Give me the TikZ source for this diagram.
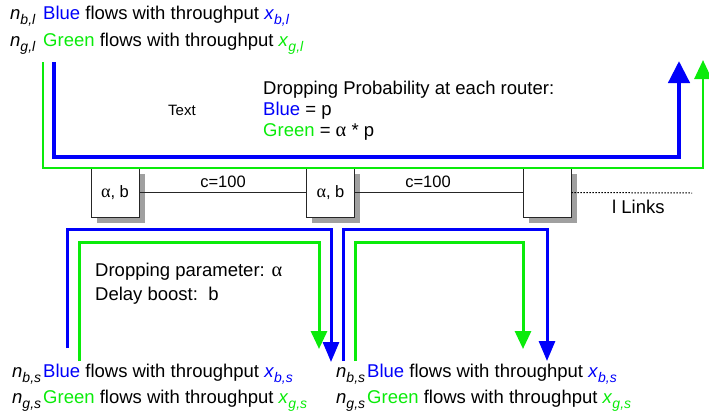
\documentclass[tikz,border=0pt]{standalone}
\usepackage{fontspec}
\setmainfont{Liberation Sans}
\newfontfamily\alphafont{Liberation Serif}
\usetikzlibrary{arrows.meta,shadows}
\definecolor{fblue}{RGB}{0,0,250}
\definecolor{fgreen}{RGB}{10,235,10}
\definecolor{shgray}{RGB}{160,160,160}
\newcommand\subsc[1]{\raisebox{-5pt}{\fontsize{14}{14}\selectfont\itshape #1}}
\newcommand\alp{{\alphafont\addfontfeature{Scale=1.1}α}}
\begin{document}
\begin{tikzpicture}[x=1pt,y=-1pt,
  txt/.style={anchor=base west, inner sep=0pt, font=\fontsize{18.5}{20}\selectfont},
  smalltxt/.style={anchor=base, inner sep=0pt, font=\fontsize{16.5}{18}\selectfont},
  router/.style={draw=black!85, line width=0.8pt, fill=white, minimum width=48pt, minimum height=49pt,
    inner sep=0pt, font=\fontsize{16.5}{18}\selectfont,
    drop shadow={shadow xshift=5.5pt, shadow yshift=-5.5pt, opacity=1, fill=shgray}},
  bigblue/.style={draw=fblue, line width=4.5pt, -{Triangle[length=22pt,width=21pt]}},
  biggreen/.style={draw=fgreen, line width=2.8pt, -{Triangle[length=19pt,width=17pt]}},
  lowblue/.style={draw=fblue, line width=3pt, -{Triangle[length=20pt,width=16pt]}},
  lowgreen/.style={draw=fgreen, line width=3pt, -{Triangle[length=18pt,width=16pt]}},
  link/.style={draw=black!85, line width=0.8pt}
]
\useasboundingbox (0,0) rectangle (709,416);

% routers
\node[router] (r1) at (115,192.5) {\alp, b};
\node[router] (r2) at (330.5,192.5) {\alp, b};
\node[router] (r3) at (547,192.5) {};
\coordinate (lend) at (692,193);

\draw[link] (r1) -- (r2);
\draw[link] (r2) -- (r3);
\draw[black, line width=1pt, dash pattern=on 1.5pt off 1.5pt] (r3.east) -- (lend);

\node[smalltxt] (c1) at (223,187) {c=100};
\node[smalltxt] (c2) at (428,187) {c=100};
\node[txt] (links) at (612,213) {l Links};

% top flows
\coordinate (gb0) at (43,62);  \coordinate (gb1) at (43,168);
\coordinate (gb2) at (703,168); \coordinate (gb3) at (703,60);
\coordinate (bb0) at (54,62);  \coordinate (bb1) at (54,157);
\coordinate (bb2) at (679,157); \coordinate (bb3) at (679,61);
\draw[biggreen] (gb0) -- (gb1) -- (gb2) -- (gb3);
\draw[bigblue] (bb0) -- (bb1) -- (bb2) -- (bb3);

% lower flows, left
\coordinate (lb0) at (67,348); \coordinate (lb1) at (67,229);
\coordinate (lb2) at (331,229); \coordinate (lb3) at (331,362);
\coordinate (lg0) at (79,361); \coordinate (lg1) at (79,242);
\coordinate (lg2) at (319,242); \coordinate (lg3) at (319,349);
\draw[lowblue] (lb0) -- (lb1) -- (lb2) -- (lb3);
\draw[lowgreen] (lg0) -- (lg1) -- (lg2) -- (lg3);

% lower flows, right
\coordinate (rb0) at (343,361); \coordinate (rb1) at (343,229);
\coordinate (rb2) at (547,229); \coordinate (rb3) at (547,361);
\coordinate (rg0) at (355,361); \coordinate (rg1) at (355,242);
\coordinate (rg2) at (523,242); \coordinate (rg3) at (523,349);
\draw[lowblue] (rb0) -- (rb1) -- (rb2) -- (rb3);
\draw[lowgreen] (rg0) -- (rg1) -- (rg2) -- (rg3);

% top texts
\node[txt] (n1) at (10,19) {\textit{n}\subsc{b,l}};
\node[txt] (t1) at (43,19) {\textcolor{fblue}{Blue} flows with throughput \textcolor{fblue}{\textit{x}\subsc{b,l}}};
\node[txt] (n2) at (10,46) {\textit{n}\subsc{g,l}};
\node[txt] (t2) at (43,46) {\textcolor{fgreen}{Green} flows with throughput \textcolor{fgreen}{\textit{x}\subsc{g,l}}};

% middle texts
\node[txt, font=\fontsize{15}{16}\selectfont] (tx) at (168,115) {Text};
\node[txt] (dp1) at (263,94) {Dropping Probability at each router:};
\node[txt] (dp2) at (263,115) {\textcolor{fblue}{Blue} = p};
\node[txt] (dp3) at (263,136) {\textcolor{fgreen}{Green} = \alp{} * p};

\node[txt] (par1) at (95,276) {Dropping parameter: \alp};
\node[txt] (par2) at (95,300) {Delay boost:\ \ b};

% lower texts
\node[txt] (n3) at (12,377) {\textit{n}\subsc{b,s}};
\node[txt] (t3) at (43,377) {\textcolor{fblue}{Blue} flows with throughput \textcolor{fblue}{\textit{x}\subsc{b,s}}};
\node[txt] (n4) at (12,403) {\textit{n}\subsc{g,s}};
\node[txt] (t4) at (43,403) {\textcolor{fgreen}{Green} flows with throughput \textcolor{fgreen}{\textit{x}\subsc{g,s}}};

\node[txt] (n5) at (336,377) {\textit{n}\subsc{b,s}};
\node[txt] (t5) at (367,377) {\textcolor{fblue}{Blue} flows with throughput \textcolor{fblue}{\textit{x}\subsc{b,s}}};
\node[txt] (n6) at (336,403) {\textit{n}\subsc{g,s}};
\node[txt] (t6) at (367,403) {\textcolor{fgreen}{Green} flows with throughput \textcolor{fgreen}{\textit{x}\subsc{g,s}}};
\end{tikzpicture}
\end{document}
